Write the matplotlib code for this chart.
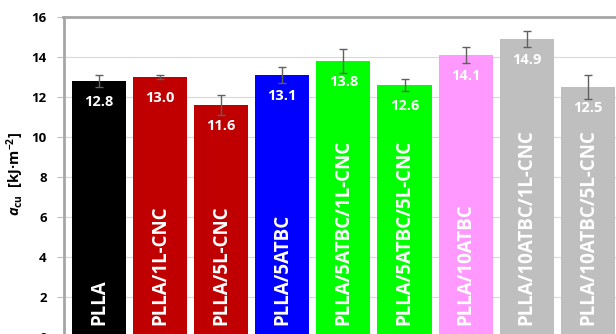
import matplotlib
matplotlib.use("Agg")
import matplotlib.pyplot as plt

plt.rcParams['font.family'] = ['Open Sans', 'DejaVu Sans']
plt.rcParams['mathtext.fontset'] = 'custom'
plt.rcParams['mathtext.rm'] = 'Open Sans:bold'
plt.rcParams['mathtext.it'] = 'Open Sans:italic:bold'
plt.rcParams['mathtext.bf'] = 'Open Sans:bold'

# impact strength per sample
samples = ["PLLA", "PLLA/1L-CNC", "PLLA/5L-CNC", "PLLA/5ATBC",
           "PLLA/5ATBC/1L-CNC", "PLLA/5ATBC/5L-CNC", "PLLA/10ATBC",
           "PLLA/10ATBC/1L-CNC", "PLLA/10ATBC/5L-CNC"]
acu = [12.8, 13.0, 11.6, 13.1, 13.8, 12.6, 14.1, 14.9, 12.5]
acu_err = [0.3, 0.1, 0.5, 0.4, 0.6, 0.3, 0.4, 0.4, 0.6]
bar_colors = ["#000000", "#c00000", "#c00000", "#0000ff", "#00ff00",
              "#00ff00", "#ff99ff", "#bfbfbf", "#bfbfbf"]
y_ticks = [0, 2, 4, 6, 8, 10, 12, 14, 16]

W, H = 616, 334
fig = plt.figure(figsize=(W / 100, H / 100), dpi=100)
ax_left, ax_top, ax_bottom = 63.5 / W, 1 - 17.3 / H, (H - 337.3) / H
ax = fig.add_axes([ax_left, ax_bottom, 1 - ax_left, ax_top - ax_bottom])

x = list(range(len(samples)))
ax.bar(x, acu, width=0.885, color=bar_colors, zorder=2)
ax.errorbar(x, acu, yerr=acu_err, fmt="none", ecolor="#606060",
            elinewidth=1.0, capsize=3, capthick=1.0, zorder=3)

for xi, v, name in zip(x, acu, samples):
    ax.text(xi, v - 1.05, f"{v:.1f}", ha="center", va="center",
            color="white", fontsize=10.5, fontweight="bold", zorder=4)
    ax.text(xi, 0.62, name, ha="center", va="bottom", rotation=90,
            color="white", fontsize=13.5, fontweight="bold", zorder=4)

ax.set_xlim(-0.58, 8.46)
ax.set_ylim(0, 16)
ax.set_yticks(y_ticks)
ax.set_yticklabels([str(t) for t in y_ticks], fontsize=9.5, fontweight="bold")
ax.set_xticks([])
ax.yaxis.grid(True, color="#d9d9d9", linewidth=0.8, zorder=0)
ax.set_axisbelow(True)
ax.tick_params(axis="y", length=5, width=0.8, color="#bfbfbf", pad=7)

for side in ("right", "bottom"):
    ax.spines[side].set_visible(False)
for side in ("left", "top"):
    ax.spines[side].set_color("#a6a6a6")
    ax.spines[side].set_linewidth(2)

ax.set_ylabel(r"$\mathit{a}_{\mathbf{cu}}$  [kJ·m$^{\mathbf{-2}}$]",
              fontsize=10.5, fontweight="bold")
ax.yaxis.set_label_coords(-0.068, 0.51)

fig.savefig("out.png", dpi=100)
